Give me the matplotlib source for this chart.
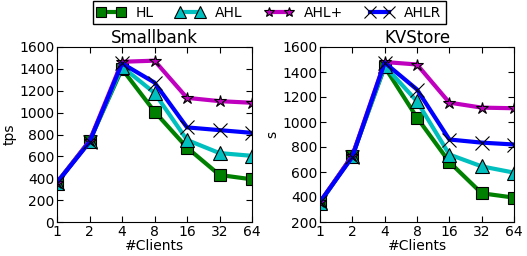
import matplotlib
matplotlib.use('Agg')
import matplotlib.pyplot as plt

clients = ['1', '2', '4', '8', '16', '32', '64']
series = ['HL', 'AHL', 'AHL+', 'AHLR']

# Smallbank (tps)
sb_hl = [360, 740, 1400, 1010, 680, 430, 390]
sb_ahl = [360, 740, 1420, 1180, 750, 630, 605]
sb_ahlp = [360, 740, 1465, 1475, 1135, 1105, 1090]
sb_ahlr = [360, 730, 1450, 1275, 865, 840, 815]

# KVStore (s)
kv_hl = [355, 730, 1440, 1035, 680, 430, 395]
kv_ahl = [355, 730, 1450, 1165, 740, 645, 595]
kv_ahlp = [360, 730, 1480, 1460, 1155, 1115, 1110]
kv_ahlr = [360, 720, 1475, 1260, 860, 835, 820]

colors = ['green', 'c', 'm', 'b']
markers = ['s', '^', '*', 'x']
msizes = [9, 10, 9, 10]

plt.rcParams['font.size'] = 10
plt.rcParams['xtick.direction'] = 'in'
plt.rcParams['ytick.direction'] = 'in'
plt.rcParams['xtick.top'] = True
plt.rcParams['ytick.right'] = True

fig = plt.figure(figsize=(5.27, 2.56), dpi=100)
ax1 = fig.add_axes([57/527, 1 - 222/256, 195/527, 175/256])
ax2 = fig.add_axes([320/527, 1 - 222/256, 194/527, 175/256])

def draw(ax, data, title, ylabel, ylim):
    x = range(len(clients))
    lines = []
    for vals, c, m, ms, name in zip(data, colors, markers, msizes, series):
        l, = ax.plot(x, vals, color=c, marker=m, markersize=ms, linewidth=3,
                     markeredgecolor='black', markeredgewidth=0.8, label=name)
        lines.append(l)
    ax.set_xlim(0, 6)
    ax.set_ylim(*ylim)
    ax.set_yticks(range(ylim[0], ylim[1] + 1, 200))
    ax.set_xticks(list(x))
    ax.set_xticklabels(clients)
    ax.set_xlabel('#Clients', labelpad=0)
    ax.set_ylabel(ylabel, labelpad=2)
    ax.set_title(title, pad=2)
    ax.tick_params(length=4, pad=2)
    return lines

lines = draw(ax1, [sb_hl, sb_ahl, sb_ahlp, sb_ahlr], 'Smallbank', 'tps', (0, 1600))
draw(ax2, [kv_hl, kv_ahl, kv_ahlp, kv_ahlr], 'KVStore', 's', (200, 1600))

leg = fig.legend(lines, series, loc='upper center', ncol=4, bbox_to_anchor=(0.511, 1.0),
                 fancybox=False, edgecolor='black', framealpha=1, borderpad=0.3,
                 columnspacing=1.6, handlelength=2.0, borderaxespad=0.1, numpoints=2,
                 handletextpad=0.8, markerscale=0.85)

fig.savefig('out.png', dpi=100)
